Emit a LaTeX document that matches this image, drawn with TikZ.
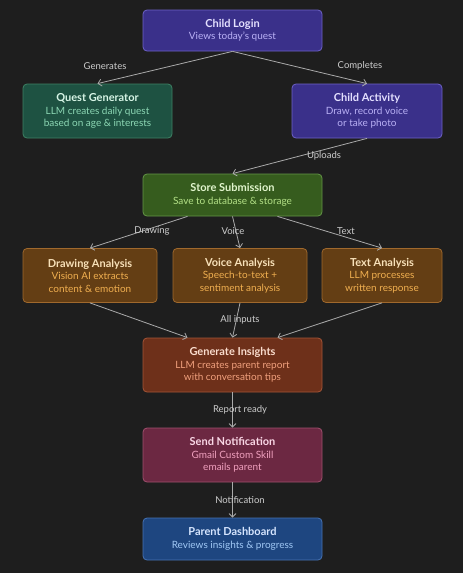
\documentclass[tikz,border=0pt]{standalone}
\usepackage{fontspec}
\setmainfont{Lato}
\usetikzlibrary{arrows.meta}
\definecolor{bgdark}{RGB}{30,30,30}
\definecolor{edgegray}{RGB}{170,170,170}
\definecolor{lblgray}{RGB}{205,205,205}
\definecolor{loginfill}{RGB}{58,48,138}
\definecolor{loginedge}{RGB}{110,98,200}
\definecolor{logintext}{RGB}{228,224,255}
\definecolor{loginsub}{RGB}{185,176,245}
\definecolor{questfill}{RGB}{30,82,66}
\definecolor{questedge}{RGB}{62,130,100}
\definecolor{questtext}{RGB}{215,245,230}
\definecolor{questsub}{RGB}{140,215,180}
\definecolor{storefill}{RGB}{54,92,30}
\definecolor{storeedge}{RGB}{100,150,70}
\definecolor{storetext}{RGB}{225,245,205}
\definecolor{storesub}{RGB}{180,225,135}
\definecolor{anafill}{RGB}{100,62,20}
\definecolor{anaedge}{RGB}{160,105,45}
\definecolor{anatext}{RGB}{248,225,185}
\definecolor{anasub}{RGB}{240,175,80}
\definecolor{insfill}{RGB}{110,48,26}
\definecolor{insedge}{RGB}{165,85,55}
\definecolor{instext}{RGB}{250,220,205}
\definecolor{inssub}{RGB}{240,160,125}
\definecolor{notiffill}{RGB}{108,40,66}
\definecolor{notifedge}{RGB}{160,80,110}
\definecolor{notiftext}{RGB}{250,215,230}
\definecolor{notifsub}{RGB}{240,160,190}
\definecolor{dashfill}{RGB}{30,70,128}
\definecolor{dashedge}{RGB}{70,115,180}
\definecolor{dashtext}{RGB}{215,230,255}
\definecolor{dashsub}{RGB}{160,200,245}

% title line in its own colour, the rest in the node's text colour
\newcommand{\boxlabel}[3]{\textcolor{#3}{\fontsize{11}{12.5}\selectfont\bfseries #1}\\\fontsize{10}{12.5}\selectfont #2}

\tikzset{
  box/.style={draw, rounded corners=4pt, line width=0.8pt, align=center,
    inner sep=0pt, minimum height=54pt, font=\fontsize{10}{12.5}\selectfont},
  lbl/.style={text=lblgray, font=\fontsize{9.5}{10}\selectfont},
  flow/.style={draw=edgegray, line width=0.8pt, -{Straight Barb[length=3.5pt,width=7pt]}}
}

\begin{document}
\begin{tikzpicture}[x=1pt, y=-1pt]
\fill[bgdark] (0,0) rectangle (463,573);
\useasboundingbox (0,0) rectangle (463,573);

% boxes
\node[box, fill=loginfill, draw=loginedge, text=loginsub, minimum width=179pt, minimum height=41pt] (login) at (232.5,30.5)
  {\boxlabel{Child Login}{Views today's quest}{logintext}};
\node[box, fill=questfill, draw=questedge, text=questsub, minimum width=149pt] (quest) at (97.5,111)
  {\boxlabel{Quest Generator}{LLM creates daily quest\\based on age \& interests}{questtext}};
\node[box, fill=loginfill, draw=loginedge, text=loginsub, minimum width=150pt] (activity) at (367,111)
  {\boxlabel{Child Activity}{Draw, record voice\\or take photo}{logintext}};
\node[box, fill=storefill, draw=storeedge, text=storesub, minimum width=179pt, minimum height=42pt] (store) at (232.5,195)
  {\boxlabel{Store Submission}{Save to database \& storage}{storetext}};
\node[box, fill=anafill, draw=anaedge, text=anasub, minimum width=134pt] (drawing) at (90,275.5)
  {\boxlabel{Drawing Analysis}{Vision AI extracts\\content \& emotion}{anatext}};
\node[box, fill=anafill, draw=anaedge, text=anasub, minimum width=134pt] (voice) at (240,275.5)
  {\boxlabel{Voice Analysis}{Speech-to-text +\\sentiment analysis}{anatext}};
\node[box, fill=anafill, draw=anaedge, text=anasub, minimum width=120pt] (text) at (382,275.5)
  {\boxlabel{Text Analysis}{LLM processes\\written response}{anatext}};
\node[box, fill=insfill, draw=insedge, text=inssub, minimum width=179pt] (insights) at (232.5,365)
  {\boxlabel{Generate Insights}{LLM creates parent report\\with conversation tips}{instext}};
\node[box, fill=notiffill, draw=notifedge, text=notifsub, minimum width=179pt] (notify) at (232.5,455)
  {\boxlabel{Send Notification}{Gmail Custom Skill\\emails parent}{notiftext}};
\node[box, fill=dashfill, draw=dashedge, text=dashsub, minimum width=179pt, minimum height=42pt] (parent) at (232.5,539)
  {\boxlabel{Parent Dashboard}{Reviews insights \& progress}{dashtext}};

% connectors
\draw[flow] (login.south) -- (quest.north);
\draw[flow] (login.south) -- (activity.north);
\draw[flow] (activity.south) -- (store.north);
\draw[flow] ([xshift=-45pt]store.south) -- (drawing.north);
\draw[flow] (store.south) -- (voice.north);
\draw[flow] ([xshift=45pt]store.south) -- (text.north);
\draw[flow] (drawing.south) -- ([xshift=-45pt]insights.north);
\draw[flow] (voice.south) -- (insights.north);
\draw[flow] (text.south) -- ([xshift=45pt]insights.north);
\draw[flow] (insights.south) -- (notify.north);
\draw[flow] (notify.south) -- (parent.north);

% labels
\node[lbl] (lgen) at (105,66) {Generates};
\node[lbl] (lcomp) at (360,66) {Completes};
\node[lbl] (lup) at (324,156) {Uploads};
\node[lbl] (ldraw) at (152,231) {Drawing};
\node[lbl] (lvoice) at (233,231) {Voice};
\node[lbl] (ltext) at (346,231) {Text};
\node[lbl] (lall) at (240,320) {All inputs};
\node[lbl] (lrep) at (240,410) {Report ready};
\node[lbl] (lnot) at (240,500) {Notification};
\end{tikzpicture}
\end{document}
